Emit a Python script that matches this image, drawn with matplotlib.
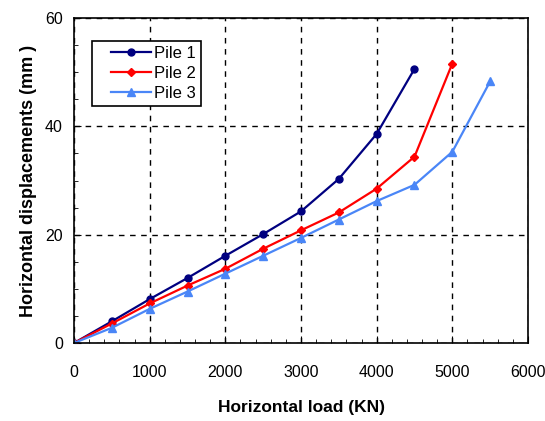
import matplotlib.pyplot as plt
from matplotlib.lines import Line2D
from matplotlib.legend_handler import HandlerLine2D
from matplotlib.ticker import MultipleLocator

plt.rcParams['font.family'] = ['Liberation Sans', 'DejaVu Sans']

# Horizontal load (KN) and measured displacement (mm) for each pile
load_1 = [0, 500, 1000, 1500, 2000, 2500, 3000, 3500, 4000, 4500]
disp_1 = [0, 4.0, 8.1, 12.0, 16.1, 20.1, 24.3, 30.3, 38.6, 50.6]

load_2 = [0, 500, 1000, 1500, 2000, 2500, 3000, 3500, 4000, 4500, 5000]
disp_2 = [0, 3.6, 7.3, 10.6, 13.7, 17.4, 20.8, 24.1, 28.5, 34.4, 51.6]

load_3 = [0, 500, 1000, 1500, 2000, 2500, 3000, 3500, 4000, 4500, 5000, 5500]
disp_3 = [0, 2.8, 6.3, 9.5, 12.8, 16.1, 19.4, 22.8, 26.2, 29.2, 35.3, 48.3]

fig = plt.figure(figsize=(5.45, 4.21), dpi=100)
ax = fig.add_axes([74 / 545, 1 - 343 / 421, 454 / 545, 325 / 421])

ax.plot(load_1, disp_1, color='#000080', marker='o', markersize=5, linewidth=1.6, label='Pile 1')
ax.plot(load_2, disp_2, color='#FF0000', marker='D', markersize=4, linewidth=1.6, label='Pile 2')
ax.plot(load_3, disp_3, color='#4A86F7', marker='^', markersize=6, linewidth=1.6, label='Pile 3')

ax.set_xlim(0, 6000)
ax.set_ylim(0, 60)
ax.xaxis.set_major_locator(MultipleLocator(1000))
ax.xaxis.set_minor_locator(MultipleLocator(200))
ax.yaxis.set_major_locator(MultipleLocator(20))
ax.yaxis.set_minor_locator(MultipleLocator(5))
ax.tick_params(which='both', direction='in', labelsize=11.5)
ax.tick_params(which='major', length=5)
ax.tick_params(which='minor', length=3)
ax.tick_params(axis='x', which='major', pad=16)
ax.tick_params(axis='y', which='major', pad=8)

ax.grid(True, which='major', color='black', linestyle=(0, (4, 4)), linewidth=1)

ax.set_xlabel('Horizontal load (KN)', fontsize=12.5, fontweight='bold', labelpad=14)
ax.set_ylabel('Horizontal displacements (mm )', fontsize=13, fontweight='bold', labelpad=6)

# extra room left of the legend handles
leg = ax.legend(loc='upper left', bbox_to_anchor=(0.04, 0.93), borderaxespad=0,
                fontsize=12, fancybox=False, framealpha=1, edgecolor='black',
                borderpad=0.3, labelspacing=0.3, handlelength=3.25, handletextpad=0.15,
                handler_map={Line2D: HandlerLine2D(xpad=0.85)})
leg.get_frame().set_linewidth(1.2)

for s in ax.spines.values():
    s.set_linewidth(1.2)

fig.savefig('out.png', dpi=100)
